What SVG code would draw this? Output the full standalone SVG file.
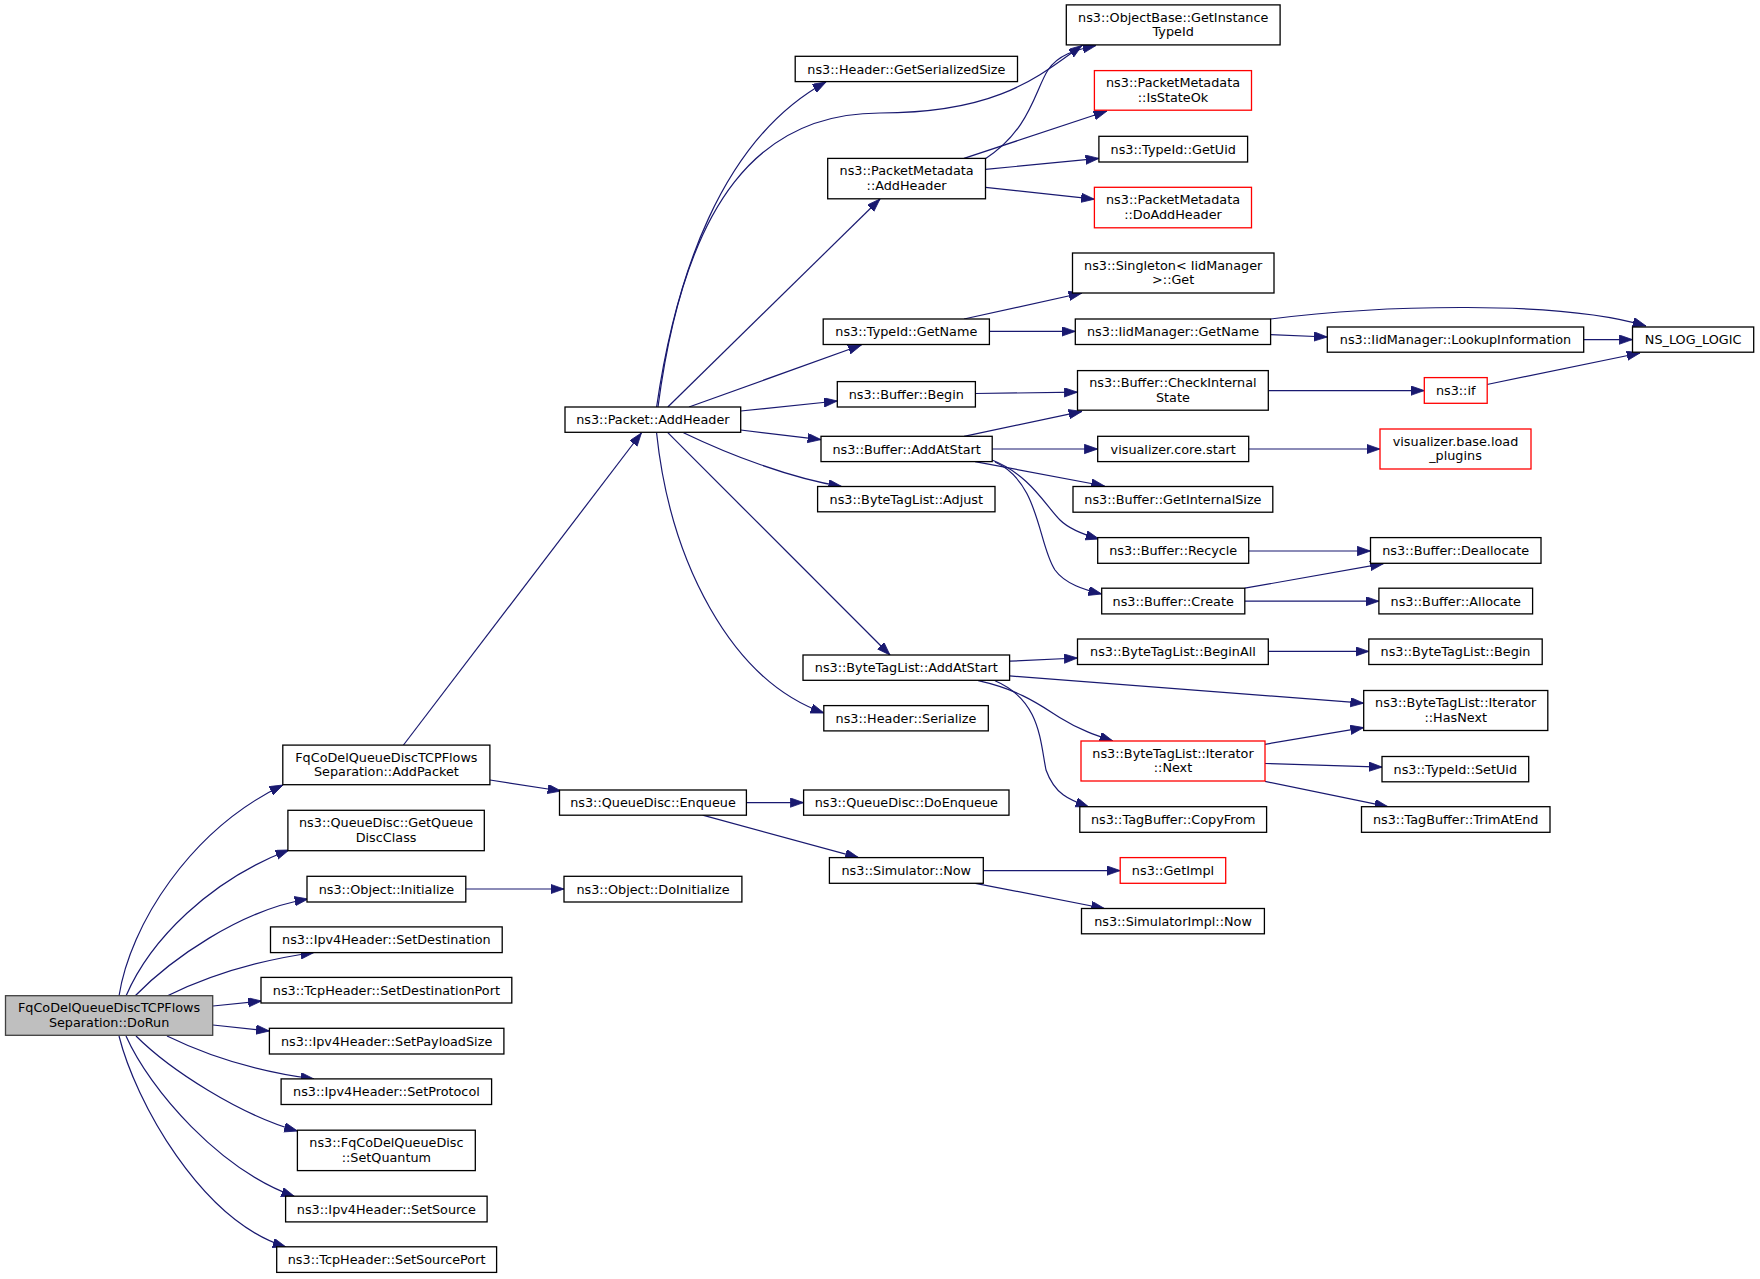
<svg xmlns="http://www.w3.org/2000/svg" width="1760" height="1279" viewBox="0 0 1760 1279">
<style>
.node rect{fill:#ffffff;stroke:#000000;stroke-width:1.3}
.node.red rect{stroke:#ff0000}
.node.root rect{fill:#bfbfbf;stroke:#404040}
text{font-family:"DejaVu Sans",sans-serif;font-size:12.8px;text-anchor:middle;fill:#000000}
.edges path{fill:none;stroke:#191970;stroke-width:1.2;marker-end:url(#arr)}
</style>
<defs>
<marker id="arr" markerUnits="userSpaceOnUse" markerWidth="15" markerHeight="11" refX="13.3" refY="4.65" orient="auto">
<path d="M0,0 L13.3,4.65 L0,9.3 z" fill="#191970" stroke="#191970" stroke-width="0.8"/>
</marker>
</defs>
<rect width="1760" height="1279" fill="#ffffff"/>
<g class="edges" id="connectors">
<path d="M119,996 C130,925 190,830 283,785"/>
<path d="M126,996 C150,940 210,880 289,850"/>
<path d="M135,996 C170,960 240,910 308,899"/>
<path d="M167,996 C210,975 260,960 314,952.5"/>
<path d="M213,1006 L261.5,1001"/>
<path d="M213,1025 L269.4,1031"/>
<path d="M167,1036 C210,1057 260,1072 314,1079"/>
<path d="M136,1036 C170,1070 240,1115 297.5,1131"/>
<path d="M126,1036 C150,1090 220,1170 294.6,1196.5"/>
<path d="M119,1036 C135,1100 200,1220 286,1247"/>
<path d="M403.5,745 L641.4,433"/>
<path d="M490,780 L561,791"/>
<path d="M746.4,802.6 L803.6,802.6"/>
<path d="M702.6,815.2 L858.6,857.6"/>
<path d="M465.8,889 L564,889"/>
<path d="M656.6,407 C675,280 720,140 826,82"/>
<path d="M658,407 C685,200 760,113 880,113 C1000,113 1040,75 1082,45.5"/>
<path d="M667.8,407 L880,199"/>
<path d="M689,407 L861.4,345"/>
<path d="M740.7,411 L837.3,401"/>
<path d="M740.7,430 L821,439.6"/>
<path d="M683.5,432.7 C730,455 790,478 841.8,486.5"/>
<path d="M667.8,432.7 L890,655"/>
<path d="M656.6,433 C670,560 730,680 824,713"/>
<path d="M985,159 C1030,130 1035,90 1048,70 C1058,55 1075,50 1096,45.5"/>
<path d="M964,158.4 L1107,111"/>
<path d="M985.5,169.4 L1098.9,158.4"/>
<path d="M985.5,187.3 L1094.4,199.2"/>
<path d="M964,319 L1082,293"/>
<path d="M989.4,331.4 L1075.3,331.4"/>
<path d="M1270.6,334.7 L1327.3,337"/>
<path d="M1270.6,319 C1380,305 1560,300 1646,326"/>
<path d="M1583.7,339.6 L1632.5,339.6"/>
<path d="M1487,384.5 L1640,353"/>
<path d="M975.4,393.5 L1077.5,392.2"/>
<path d="M1268.3,390.6 L1424.3,390.6"/>
<path d="M964,436.3 L1082,411.4"/>
<path d="M992,449 L1097.7,449"/>
<path d="M975,461.6 L1104.5,486"/>
<path d="M992,460 C1030,475 1045,505 1060,520 C1070,530 1085,535 1099,539"/>
<path d="M995,462 C1040,482 1038,545 1055,570 C1065,584 1085,590 1101.7,594"/>
<path d="M1248.7,449 L1380,449"/>
<path d="M1248.7,551 L1370.5,551"/>
<path d="M1244.8,588.2 L1383.4,563.7"/>
<path d="M1244.8,601.2 L1378.9,601.2"/>
<path d="M1009.6,661.2 L1077.5,658"/>
<path d="M1009.6,675.9 L1363.7,703.2"/>
<path d="M978.2,680.7 C1020,690 1040,705 1059.6,717.4 C1080,730 1095,735 1112.9,741"/>
<path d="M995,680.7 C1040,700 1040,740 1046,770 C1055,795 1070,800 1088.8,807"/>
<path d="M1268.3,651.4 L1368.8,651.4"/>
<path d="M1265,744.3 L1363.7,727.6"/>
<path d="M1265,763.5 L1382.2,767.1"/>
<path d="M1265,781.4 L1387.9,806.7"/>
<path d="M983.3,870.6 L1120.2,870.6"/>
<path d="M975.4,883.3 L1104.5,908.5"/>
</g>
<g id="n_dorun" class="node root"><rect x="5.5" y="995.7" width="207.2" height="39.6"/><text x="109.1" y="1012.3">FqCoDelQueueDiscTCPFlows</text><text x="109.1" y="1026.8">Separation::DoRun</text></g>
<g id="n_addpacket" class="node"><rect x="282.8" y="745.1" width="207.1" height="39.6"/><text x="386.4" y="761.7">FqCoDelQueueDiscTCPFlows</text><text x="386.4" y="776.2">Separation::AddPacket</text></g>
<g id="n_getqueuediscclass" class="node"><rect x="287.9" y="810.3" width="196.4" height="40.4"/><text x="386.1" y="827.3">ns3::QueueDisc::GetQueue</text><text x="386.1" y="841.8">DiscClass</text></g>
<g id="n_initialize" class="node"><rect x="307" y="876.3" width="158.8" height="25.7"/><text x="386.4" y="893.6">ns3::Object::Initialize</text></g>
<g id="n_setdestination" class="node"><rect x="270.5" y="926.9" width="231.7" height="25.7"/><text x="386.4" y="944.2">ns3::Ipv4Header::SetDestination</text></g>
<g id="n_setdestinationport" class="node"><rect x="261" y="977.4" width="250.8" height="25.6"/><text x="386.4" y="994.7">ns3::TcpHeader::SetDestinationPort</text></g>
<g id="n_setpayloadsize" class="node"><rect x="269.4" y="1028.3" width="234.5" height="25.7"/><text x="386.6" y="1045.6">ns3::Ipv4Header::SetPayloadSize</text></g>
<g id="n_setprotocol" class="node"><rect x="281.1" y="1078.9" width="210.5" height="25.6"/><text x="386.4" y="1096.2">ns3::Ipv4Header::SetProtocol</text></g>
<g id="n_setquantum" class="node"><rect x="297.4" y="1130.2" width="177.9" height="40.4"/><text x="386.4" y="1147.2">ns3::FqCoDelQueueDisc</text><text x="386.4" y="1161.7">::SetQuantum</text></g>
<g id="n_setsource" class="node"><rect x="285.6" y="1196.2" width="201.5" height="25.7"/><text x="386.4" y="1213.5">ns3::Ipv4Header::SetSource</text></g>
<g id="n_setsourceport" class="node"><rect x="276.7" y="1246.8" width="219.9" height="25.6"/><text x="386.6" y="1264.1">ns3::TcpHeader::SetSourcePort</text></g>
<g id="n_packet_addheader" class="node"><rect x="565" y="407" width="175.7" height="25.3"/><text x="652.9" y="424.2">ns3::Packet::AddHeader</text></g>
<g id="n_enqueue" class="node"><rect x="559.5" y="790" width="186.9" height="25.2"/><text x="653" y="807.1">ns3::QueueDisc::Enqueue</text></g>
<g id="n_doinitialize" class="node"><rect x="564" y="876.3" width="177.9" height="25.7"/><text x="653" y="893.6">ns3::Object::DoInitialize</text></g>
<g id="n_getserializedsize" class="node"><rect x="795.2" y="56.3" width="222.3" height="25.3"/><text x="906.4" y="73.5">ns3::Header::GetSerializedSize</text></g>
<g id="n_pm_addheader" class="node"><rect x="827.7" y="158.4" width="157.8" height="40.4"/><text x="906.6" y="175.4">ns3::PacketMetadata</text><text x="906.6" y="189.9">::AddHeader</text></g>
<g id="n_typeid_getname" class="node"><rect x="823.2" y="319" width="166.2" height="25.5"/><text x="906.3" y="336.3">ns3::TypeId::GetName</text></g>
<g id="n_buffer_begin" class="node"><rect x="837.3" y="381.6" width="138.1" height="25.4"/><text x="906.3" y="398.8">ns3::Buffer::Begin</text></g>
<g id="n_buffer_addatstart" class="node"><rect x="821" y="436.3" width="171.2" height="25.3"/><text x="906.6" y="453.5">ns3::Buffer::AddAtStart</text></g>
<g id="n_btl_adjust" class="node"><rect x="817.6" y="486.5" width="177.4" height="25.3"/><text x="906.3" y="503.7">ns3::ByteTagList::Adjust</text></g>
<g id="n_btl_addatstart" class="node"><rect x="803" y="655" width="206.6" height="25.3"/><text x="906.3" y="672.2">ns3::ByteTagList::AddAtStart</text></g>
<g id="n_header_serialize" class="node"><rect x="823.8" y="705.6" width="164.5" height="25.3"/><text x="906" y="722.8">ns3::Header::Serialize</text></g>
<g id="n_doenqueue" class="node"><rect x="803.6" y="790" width="205.4" height="25.2"/><text x="906.3" y="807.1">ns3::QueueDisc::DoEnqueue</text></g>
<g id="n_simulator_now" class="node"><rect x="829.4" y="857.6" width="153.9" height="25.7"/><text x="906.3" y="874.9">ns3::Simulator::Now</text></g>
<g id="n_objectbase" class="node"><rect x="1066.3" y="4.9" width="213.8" height="40"/><text x="1173.2" y="21.7">ns3::ObjectBase::GetInstance</text><text x="1173.2" y="36.2">TypeId</text></g>
<g id="n_isstateok" class="node red"><rect x="1094.4" y="70.6" width="157.1" height="39.6"/><text x="1173" y="87.2">ns3::PacketMetadata</text><text x="1173" y="101.7">::IsStateOk</text></g>
<g id="n_getuid" class="node"><rect x="1098.9" y="136.3" width="148.7" height="25.7"/><text x="1173.2" y="153.6">ns3::TypeId::GetUid</text></g>
<g id="n_doaddheader" class="node red"><rect x="1094.4" y="187.3" width="157.1" height="40.5"/><text x="1173" y="204.3">ns3::PacketMetadata</text><text x="1173" y="218.8">::DoAddHeader</text></g>
<g id="n_singleton" class="node"><rect x="1072.5" y="253" width="201.5" height="40"/><text x="1173.2" y="269.8">ns3::Singleton&lt; IidManager</text><text x="1173.2" y="284.3">&gt;::Get</text></g>
<g id="n_iid_getname" class="node"><rect x="1075.3" y="319" width="195.3" height="25.5"/><text x="1173" y="336.3">ns3::IidManager::GetName</text></g>
<g id="n_checkinternal" class="node"><rect x="1077.5" y="370.6" width="190.8" height="39.6"/><text x="1172.9" y="387.2">ns3::Buffer::CheckInternal</text><text x="1172.9" y="401.7">State</text></g>
<g id="n_viz_core_start" class="node"><rect x="1097.7" y="436.3" width="151" height="25.3"/><text x="1173.2" y="453.5">visualizer.core.start</text></g>
<g id="n_getinternalsize" class="node"><rect x="1073" y="486.5" width="199.8" height="25.7"/><text x="1172.9" y="503.8">ns3::Buffer::GetInternalSize</text></g>
<g id="n_recycle" class="node"><rect x="1097.7" y="537.6" width="151" height="25.7"/><text x="1173.2" y="554.9">ns3::Buffer::Recycle</text></g>
<g id="n_create" class="node"><rect x="1101.7" y="588.2" width="143.1" height="25.7"/><text x="1173.2" y="605.5">ns3::Buffer::Create</text></g>
<g id="n_beginall" class="node"><rect x="1077.5" y="639" width="190.8" height="25.5"/><text x="1172.9" y="656.2">ns3::ByteTagList::BeginAll</text></g>
<g id="n_iter_next" class="node red"><rect x="1081" y="741" width="184" height="40"/><text x="1173" y="757.8">ns3::ByteTagList::Iterator</text><text x="1173" y="772.3">::Next</text></g>
<g id="n_copyfrom" class="node"><rect x="1079.8" y="806.7" width="186.8" height="25.6"/><text x="1173.2" y="824">ns3::TagBuffer::CopyFrom</text></g>
<g id="n_getimpl" class="node red"><rect x="1120.2" y="857.6" width="105.5" height="25.7"/><text x="1173" y="874.9">ns3::GetImpl</text></g>
<g id="n_simimpl_now" class="node"><rect x="1081.5" y="908.5" width="182.9" height="25.3"/><text x="1173" y="925.7">ns3::SimulatorImpl::Now</text></g>
<g id="n_lookupinfo" class="node"><rect x="1327.3" y="327" width="256.4" height="25.2"/><text x="1455.5" y="344.1">ns3::IidManager::LookupInformation</text></g>
<g id="n_if" class="node red"><rect x="1424.3" y="377.6" width="62.9" height="25.7"/><text x="1455.7" y="394.9">ns3::if</text></g>
<g id="n_load_plugins" class="node red"><rect x="1380" y="429" width="151" height="40"/><text x="1455.5" y="445.8">visualizer.base.load</text><text x="1455.5" y="460.3">_plugins</text></g>
<g id="n_deallocate" class="node"><rect x="1370.5" y="537.6" width="170.5" height="25.7"/><text x="1455.7" y="554.9">ns3::Buffer::Deallocate</text></g>
<g id="n_allocate" class="node"><rect x="1378.9" y="588.2" width="153.7" height="25.7"/><text x="1455.7" y="605.5">ns3::Buffer::Allocate</text></g>
<g id="n_btl_begin" class="node"><rect x="1368.8" y="639" width="173.4" height="25.5"/><text x="1455.5" y="656.2">ns3::ByteTagList::Begin</text></g>
<g id="n_hasnext" class="node"><rect x="1363.7" y="690.5" width="184.1" height="40"/><text x="1455.7" y="707.3">ns3::ByteTagList::Iterator</text><text x="1455.7" y="721.8">::HasNext</text></g>
<g id="n_setuid" class="node"><rect x="1382" y="756.5" width="146.7" height="25.3"/><text x="1455.3" y="773.7">ns3::TypeId::SetUid</text></g>
<g id="n_trimatend" class="node"><rect x="1361.5" y="806.7" width="188.5" height="25.6"/><text x="1455.7" y="824">ns3::TagBuffer::TrimAtEnd</text></g>
<g id="n_ns_log_logic" class="node"><rect x="1632.5" y="327" width="121.2" height="25.2"/><text x="1693.1" y="344.1">NS_LOG_LOGIC</text></g>
</svg>
